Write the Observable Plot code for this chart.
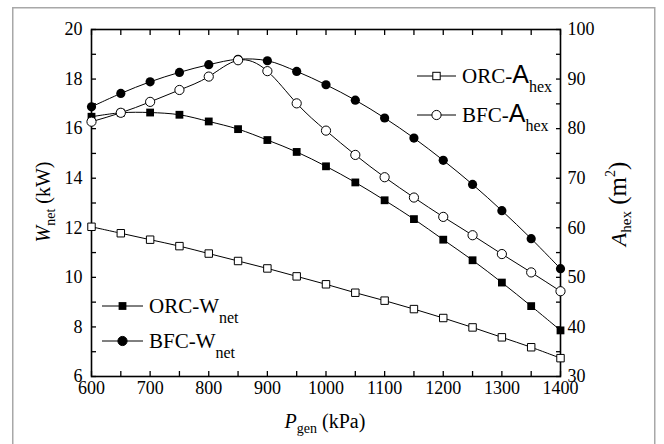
<!DOCTYPE html>
<html><head><meta charset="utf-8">
<script src="https://cdn.jsdelivr.net/npm/d3@7"></script>
<script src="https://cdn.jsdelivr.net/npm/@observablehq/plot@0.6"></script>
<style>
html,body{margin:0;padding:0;background:#fff;}
#chart svg text{font-family:"Liberation Serif",serif;}
</style></head><body>
<div id="chart"></div>
<script>
// ---- data ----
const pressure = [600,650,700,750,800,850,900,950,1000,1050,1100,1150,1200,1250,1300,1350,1400];
const orcWnet = [16.48,16.64,16.65,16.56,16.29,15.98,15.54,15.06,14.48,13.83,13.11,12.35,11.52,10.69,9.79,8.84,7.86];
const bfcWnet = [16.88,17.42,17.89,18.27,18.58,18.80,18.74,18.31,17.77,17.15,16.43,15.62,14.72,13.75,12.69,11.56,10.35];
const orcAhex = [60.2,58.9,57.6,56.3,54.8,53.3,51.8,50.2,48.6,46.9,45.3,43.6,41.8,39.9,37.9,35.9,33.7];
const bfcAhex = [81.4,83.2,85.4,87.8,90.5,93.8,91.6,85.1,79.6,74.7,70.2,66.1,62.2,58.5,54.7,51.0,47.2];

const xTickLabels = [600,700,800,900,1000,1100,1200,1300,1400];
const xTickMarks = [600,650,700,750,800,850,900,950,1000,1050,1100,1150,1200,1250,1300,1350,1400];
const leftTickLabels = [6,8,10,12,14,16,18,20];
const leftTickMarks = [6,7,8,9,10,11,12,13,14,15,16,17,18,19,20];
const rightTickLabels = [30,40,50,60,70,80,90,100];
const rightTickMarks = [30,35,40,45,50,55,60,65,70,75,80,85,90,95,100];

// right axis (A_hex, 30..100) mapped onto left scale (W_net, 6..20)
const aToW = a => 6 + (a - 30) / 5;
const wToA = w => (w - 6) * 5 + 30;

const rows = (vals, conv = d => d) => pressure.map((p, i) => ({p, v: conv(vals[i])}));
const orcW = rows(orcWnet), bfcW = rows(bfcWnet);
const orcA = rows(orcAhex, aToW), bfcA = rows(bfcAhex, aToW);

const blank = () => "";
const plain = d => String(d);
const plot = Plot.plot({
  width: 664, height: 444,
  marginLeft: 91, marginRight: 104, marginTop: 29, marginBottom: 68,
  style: {fontFamily: "Liberation Serif, serif", fontSize: "18px"},
  x: {domain: [600, 1400]},
  y: {domain: [6, 20]},
  marks: [
    Plot.axisX(xTickMarks, {anchor: "bottom", tickSize: -5, tickFormat: blank, label: null, strokeWidth: 1.3}),
    Plot.axisX(xTickMarks, {anchor: "top", tickSize: -5, tickFormat: blank, label: null, strokeWidth: 1.3}),
    Plot.axisX(xTickLabels, {anchor: "bottom", tickSize: 0, tickPadding: 5, tickFormat: plain, label: null}),
    Plot.axisY(leftTickMarks, {anchor: "left", tickSize: -5, tickFormat: blank, label: null, strokeWidth: 1.3}),
    Plot.axisY(leftTickLabels, {anchor: "left", tickSize: 0, tickPadding: 9, tickFormat: plain, label: null}),
    Plot.axisY(rightTickMarks.map(aToW), {anchor: "right", tickSize: -5, tickFormat: blank, label: null, strokeWidth: 1.3}),
    Plot.axisY(rightTickLabels.map(aToW), {anchor: "right", tickSize: 0, tickPadding: 7, tickFormat: d => String(Math.round(wToA(d))), label: null}),
    Plot.frame({stroke: "black", strokeWidth: 1.6}),
    Plot.line(orcW, {x: "p", y: "v", stroke: "black", strokeWidth: 1, curve: "catmull-rom"}),
    Plot.dot(orcW, {x: "p", y: "v", symbol: "square", r: 4.4, fill: "black"}),
    Plot.line(bfcW, {x: "p", y: "v", stroke: "black", strokeWidth: 1, curve: "catmull-rom"}),
    Plot.dot(bfcW, {x: "p", y: "v", symbol: "circle", r: 4.6, fill: "black"}),
    Plot.line(orcA, {x: "p", y: "v", stroke: "black", strokeWidth: 1, curve: "catmull-rom"}),
    Plot.dot(orcA, {x: "p", y: "v", symbol: "square", r: 4.2, fill: "white", stroke: "black", strokeWidth: 1}),
    Plot.line(bfcA, {x: "p", y: "v", stroke: "black", strokeWidth: 1, curve: "natural"}),
    Plot.dot(bfcA, {x: "p", y: "v", symbol: "circle", r: 4.6, fill: "white", stroke: "black", strokeWidth: 1})
  ]
});
document.getElementById("chart").appendChild(plot);

const svg = d3.select(plot);
// outer grey figure border
svg.insert("rect", ":first-child").attr("x", 12.75).attr("y", 7.75).attr("width", 642).attr("height", 470)
  .attr("fill", "none").attr("stroke", "#a8a8a8").attr("stroke-width", 1.5);

const SERIF = "Liberation Serif";
const SANS = "Liberation Sans";
function rich(g, parts, attrs) {
  const t = g.append("text").attr("fill", "black").attr("font-family", SERIF).style("font-family", SERIF);
  for (const [k, v] of Object.entries(attrs)) t.attr(k, v);
  for (const p of parts) {
    const s = t.append("tspan").text(p.t).attr("font-size", p.size);
    if (p.dy) s.attr("dy", p.dy);
    if (p.italic) s.attr("font-style", "italic");
    s.attr("font-family", p.sans ? SANS : SERIF).style("font-family", p.sans ? SANS : SERIF);
  }
  return t;
}
rich(svg, [{t: "W", size: 20, italic: true}, {t: "net", size: 14, dy: 5}, {t: " (kW)", size: 20, dy: -5}],
  {"text-anchor": "middle", transform: "translate(50,202) rotate(-90)"});
rich(svg, [{t: "A", size: 22, italic: true}, {t: "hex", size: 15, dy: 5}, {t: " (m", size: 25, dy: -5}, {t: "2", size: 14, dy: -11}, {t: ")", size: 25, dy: 11}],
  {"text-anchor": "middle", transform: "translate(626,204) rotate(-90)"});
rich(svg, [{t: "P", size: 20, italic: true}, {t: "gen", size: 14, dy: 5}, {t: " (kPa)", size: 20, dy: -5}],
  {"text-anchor": "middle", x: 325, y: 428});

function legendItem(x0, x1, y, marker, label, main, sub, sans, mainSize, subDy) {
  const g = svg.append("g");
  g.append("line").attr("x1", x0).attr("x2", x1).attr("y1", y).attr("y2", y).attr("stroke", "black").attr("stroke-width", 1);
  const mx = (x0 + x1) / 2;
  const filled = marker.endsWith("f");
  if (marker.startsWith("s")) {
    const s = filled ? 7.8 : 7.4;
    g.append("rect").attr("x", mx - s/2).attr("y", y - s/2).attr("width", s).attr("height", s)
      .attr("fill", filled ? "black" : "white").attr("stroke", "black").attr("stroke-width", filled ? 0 : 1);
  } else {
    g.append("circle").attr("cx", mx).attr("cy", y).attr("r", 4.6)
      .attr("fill", filled ? "black" : "white").attr("stroke", "black").attr("stroke-width", 1);
  }
  rich(g, [{t: label, size: 21}, {t: main, size: mainSize, sans}, {t: sub, size: 16, dy: subDy}],
    {"text-anchor": "start", x: x1 + 6, y: y + 7});
}
legendItem(417, 456, 76, "so", "ORC-", "A", "hex", true, 25, 9);
legendItem(417, 456, 115, "co", "BFC-", "A", "hex", true, 25, 9);
legendItem(102, 143, 306, "sf", "ORC-", "W", "net", false, 21, 10);
legendItem(102, 143, 341, "cf", "BFC-", "W", "net", false, 21, 10);

// make sure Plot's own tick labels use the serif face too
svg.selectAll("g[aria-label$='tick label'] text").style("font-family", SERIF);
</script>
</body></html>
